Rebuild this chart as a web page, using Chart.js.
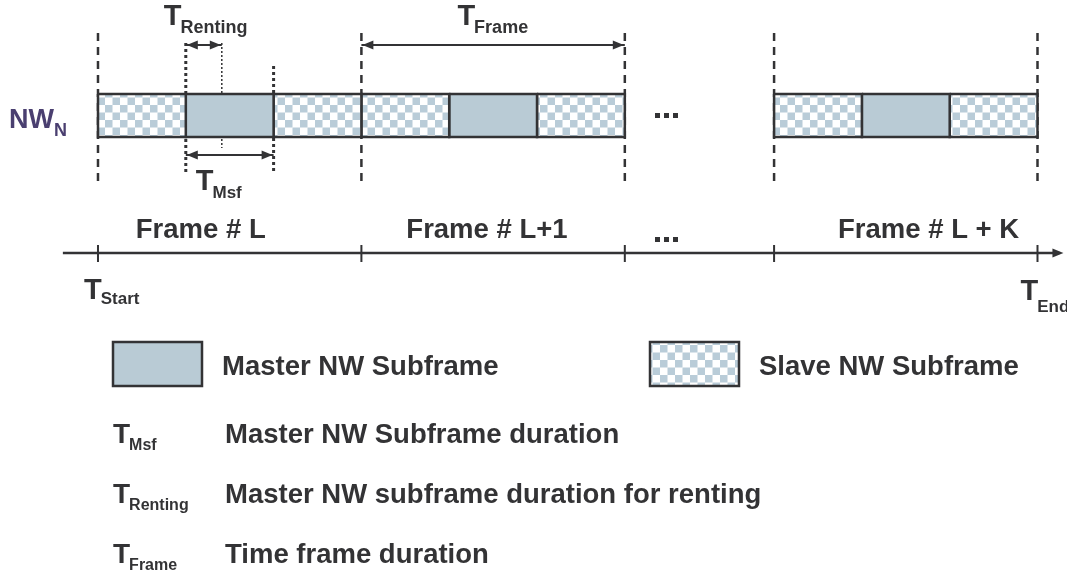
<!DOCTYPE html>
<html>
<head>
<meta charset="utf-8">
<script src="https://cdn.jsdelivr.net/npm/chart.js@4/dist/chart.umd.min.js"></script>
<style>
  html, body { margin:0; padding:0; background:#fff; }
  canvas { display:block; }
</style>
</head>
<body>
<canvas id="timeline" width="1067" height="579"></canvas>
<script>
// ======================================
// DATA (x in subframe units)
// ======================================
const frameNames = ['Frame # L', 'Frame # L+1', 'Frame # L + K'];
const frameStarts = [0, 3, 7.7];
const subframeKinds = ['Slave', 'Master', 'Slave'];
const timeTicks = [0, 3, 6, 7.7, 10.7];
const rentingSpan = [1, 1.41];
const msfSpan = [1, 2];
const frameSpan = [3, 6];
const legendItems = ['Master NW Subframe', 'Slave NW Subframe'];
const legendSymbols = [
  ['Msf', 'Master NW Subframe duration'],
  ['Renting', 'Master NW subframe duration for renting'],
  ['Frame', 'Time frame duration']
];

// ======================================
// LOOK
// ======================================
const INK = '#333335';
const MASTER = '#b9cbd5';
const FONT = '"Liberation Sans", Arial, sans-serif';
const frameLabelAt = [1.17, 4.43, 9.46];

// checkerboard for slave subframes
function checker(){
  const c = document.createElement('canvas');
  c.width = 15; c.height = 15;
  const g = c.getContext('2d');
  g.fillStyle = '#ffffff';
  g.fillRect(0,0,15,15);
  g.fillStyle = '#b9ccd8';
  g.fillRect(0,0,7.5,7.5);
  g.fillRect(7.5,7.5,7.5,7.5);
  return g.createPattern(c,'repeat');
}
const SLAVE = checker();

function seg(x1,y1,x2,y2){
  return [{x:x1,y:y1},{x:x2,y:y2}];
}

function rect(x1,x2,y1,y2){
  return [{x:x1,y:y1},{x:x2,y:y1},{x:x2,y:y2},{x:x1,y:y2},{x:x1,y:y1}];
}

const datasets = [];

// subframe boxes
frameStarts.forEach(start => {
  subframeKinds.forEach((kind,i) => {
    datasets.push({
      data: rect(start+i, start+i+1, 94, 137),
      fill: 'shape',
      backgroundColor: kind === 'Master' ? MASTER : SLAVE,
      borderColor: INK,
      borderWidth: 2.5
    });
  });
});

// frame boundaries (dashed)
const bounds = [];
frameStarts.forEach(s => { bounds.push(s); bounds.push(s+3); });
[...new Set(bounds.map(b => b.toFixed(2)))].forEach(b => {
  datasets.push({
    data: seg(+b,33,+b,183),
    borderColor: INK, borderWidth: 2.5, borderDash:[8,6]
  });
});

// master subframe edges (dotted)
datasets.push({ data: seg(msfSpan[0],43,msfSpan[0],172), borderColor:INK, borderWidth:3, borderDash:[3,3] });
datasets.push({ data: seg(msfSpan[1],66,msfSpan[1],172), borderColor:INK, borderWidth:3, borderDash:[3,3] });
datasets.push({ data: seg(rentingSpan[1],43,rentingSpan[1],148), borderColor:INK, borderWidth:1.5, borderDash:[2,2] });

// duration arrows
datasets.push({ data: seg(rentingSpan[0],45,rentingSpan[1],45), borderColor:INK, borderWidth:2 });
datasets.push({ data: seg(msfSpan[0],155,msfSpan[1],155), borderColor:INK, borderWidth:2 });
datasets.push({ data: seg(frameSpan[0],45,frameSpan[1],45), borderColor:INK, borderWidth:2 });

// time axis
datasets.push({ data: seg(-0.4,253,10.95,253), borderColor:INK, borderWidth:2.5 });
timeTicks.forEach(t => {
  datasets.push({ data: seg(t,245,t,262), borderColor:INK, borderWidth:2 });
});

datasets.forEach(d => {
  d.showLine = true;
  d.pointRadius = 0;
  if(d.fill === undefined) d.fill = false;
});

// ======================================
// TEXT + ARROW HEADS
// ======================================
function tLabel(ctx, x, y, sub, big, small, drop){
  ctx.font = `bold ${big}px ${FONT}`;
  ctx.fillText('T', x, y);
  const w = ctx.measureText('T').width;
  ctx.font = `bold ${small}px ${FONT}`;
  ctx.fillText(sub, x + w - 1, y + (drop === undefined ? small*0.45 : drop));
}

function head(ctx, x, y, dir){
  ctx.beginPath();
  ctx.moveTo(x, y);
  ctx.lineTo(x - dir*11, y - 4.5);
  ctx.lineTo(x - dir*11, y + 4.5);
  ctx.closePath();
  ctx.fill();
}

function dots(ctx, x, y){
  for(let i = 0; i < 3; i++){
    ctx.fillRect(x + i*9, y, 5, 5);
  }
}

const annotate = {
  id:'annotate',
  afterDraw(chart){
    const ctx = chart.ctx;
    const xs = chart.scales.x;
    const px = v => xs.getPixelForValue(v);

    ctx.save();
    ctx.fillStyle = INK;
    ctx.textBaseline = 'alphabetic';

    // arrow heads
    [[rentingSpan,45],[msfSpan,155],[frameSpan,45]].forEach(([s,y]) => {
      head(ctx, px(s[0])+1, y, -1);
      head(ctx, px(s[1])-1, y, 1);
    });
    head(ctx, px(10.95)+4, 253, 1);

    // duration labels
    tLabel(ctx, px(rentingSpan[0])-22, 25, 'Renting', 29, 18);
    tLabel(ctx, px(msfSpan[0])+10, 190, 'Msf', 29, 17);
    tLabel(ctx, px(frameSpan[0])+96, 25, 'Frame', 29, 18);

    // network name
    ctx.fillStyle = '#4a3f70';
    ctx.font = `bold 27px ${FONT}`;
    ctx.fillText('NW', 9, 128);
    const nw = ctx.measureText('NW').width;
    ctx.font = `bold 18px ${FONT}`;
    ctx.fillText('N', 9 + nw, 136);
    ctx.fillStyle = INK;

    // ellipses
    dots(ctx, 655, 113);
    dots(ctx, 655, 237);

    // frame labels
    ctx.font = `bold 27.5px ${FONT}`;
    ctx.textAlign = 'center';
    frameNames.forEach((name,i) => {
      ctx.fillText(name, px(frameLabelAt[i]), 238);
    });
    ctx.textAlign = 'left';

    // start / end
    tLabel(ctx, px(timeTicks[0])-14, 299, 'Start', 29, 17, 5);
    tLabel(ctx, px(timeTicks[timeTicks.length-1])-17, 300, 'End', 29, 17, 12);

    // legend boxes
    const boxes = [[113, MASTER], [650, SLAVE]];
    boxes.forEach(([bx, fill], i) => {
      ctx.fillStyle = fill;
      ctx.fillRect(bx, 342, 89, 44);
      ctx.strokeStyle = INK;
      ctx.lineWidth = 2.5;
      ctx.strokeRect(bx, 342, 89, 44);
      ctx.fillStyle = INK;
      ctx.font = `bold 27.5px ${FONT}`;
      ctx.fillText(legendItems[i], bx + 109, 375);
    });

    // symbol legend
    legendSymbols.forEach(([sub, text], i) => {
      const y = 443 + i*60;
      tLabel(ctx, 113, y, sub, 28, 16);
      ctx.font = `bold 27.5px ${FONT}`;
      ctx.fillText(text, 225, y);
    });

    ctx.restore();
  }
};

// ======================================
// CHART
// ======================================
new Chart(document.getElementById('timeline'), {
  type:'scatter',
  data:{ datasets },
  options:{
    responsive:false,
    animation:false,
    layout:{ padding:0 },
    plugins:{
      legend:{ display:false },
      tooltip:{ enabled:false }
    },
    scales:{
      x:{ type:'linear', display:false, min:-1.116, max:11.036 },
      y:{ type:'linear', display:false, min:0, max:579, reverse:true }
    }
  },
  plugins:[annotate]
});
</script>
</body>
</html>
